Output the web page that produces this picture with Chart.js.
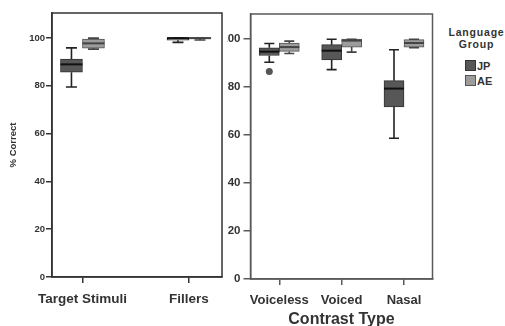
<!DOCTYPE html>
<html>
<head>
<meta charset="utf-8">
<script src="https://cdn.jsdelivr.net/npm/chart.js@4.4.1/dist/chart.umd.min.js"></script>
<style>
    body { margin: 0; background: #fff; }
    #wrap { position: relative; width: 505px; height: 326px; overflow: hidden; font-family: "Liberation Sans", Arial, sans-serif; }
    #leftChart { position: absolute; left: 0; top: 0; z-index: 2; background: #fff; }
    #rightChart { position: absolute; left: 200px; top: 0; z-index: 1; }
    .legend-title { position: absolute; left: 440px; width: 73px; text-align: center; font-weight: bold; font-size: 10.5px; letter-spacing: 0.8px; color: #333; }
    .legend-item { position: absolute; left: 465px; font-weight: bold; font-size: 11px; color: #333; line-height: 12px; }
    .swatch { display: inline-block; width: 9px; height: 9px; vertical-align: -1px; margin-right: 1px; }
</style>
</head>
<body>
<div id="wrap">
    <canvas id="leftChart" width="227" height="326"></canvas>
    <canvas id="rightChart" width="305" height="326"></canvas>
    <div class="legend-title" style="top:26px">Language</div>
    <div class="legend-title" style="top:38px">Group</div>
    <div class="legend-item" style="top:60px"><span class="swatch" style="background:#575757;border:1px solid #333"></span>JP</div>
    <div class="legend-item" style="top:75px"><span class="swatch" style="background:#9c9c9c;border:1px solid #555"></span>AE</div>
</div>
<script>
// Categories
const leftCategories = ['Target Stimuli', 'Fillers'];
const rightCategories = ['Voiceless', 'Voiced', 'Nasal'];
const yTicks = [0, 20, 40, 60, 80, 100];

// Box summaries: [min, q1, median, q3, max]
const leftJP = [[79.5, 85.7, 89.0, 91.2, 95.9], [98.2, 99.1, 100, 100, 100]];
const leftAE = [[95.4, 95.8, 97.8, 99.6, 100], [99.2, 99.6, 100, 100, 100]];
const rightJP = [[90.4, 93.2, 94.8, 96.4, 98.2], [87.3, 91.4, 95.2, 97.7, 100], [58.7, 71.8, 79.4, 82.7, 95.6]];
const rightAE = [[94.0, 94.9, 96.7, 98.4, 99.2], [94.6, 96.7, 99.4, 100, 100], [96.4, 96.7, 98.4, 99.8, 100]];
const rightJPOutliers = [[86.5], [], []];

const JP_FILL = '#575757';
const AE_FILL = '#9c9c9c';

// whiskers, medians and outliers drawn on top of the floating bars
const whiskerPlugin = {
    id: 'whiskers',
    afterDatasetsDraw(chart, args, opts) {
        const ctx = chart.ctx;
        const y = chart.scales.y;
        chart.data.datasets.forEach((ds, di) => {
            const meta = chart.getDatasetMeta(di);
            const stats = opts.stats[di];
            const outliers = (opts.outliers && opts.outliers[di]) || [];
            meta.data.forEach((bar, i) => {
                const [lo, q1, med, q3, hi] = stats[i];
                const cap = bar.width / 4;
                ctx.save();
                ctx.strokeStyle = opts.whiskerColors[di];
                ctx.lineWidth = 1.6;
                ctx.beginPath();
                ctx.moveTo(bar.x, y.getPixelForValue(q3));
                ctx.lineTo(bar.x, y.getPixelForValue(hi));
                ctx.moveTo(bar.x - cap, y.getPixelForValue(hi));
                ctx.lineTo(bar.x + cap, y.getPixelForValue(hi));
                ctx.moveTo(bar.x, y.getPixelForValue(q1));
                ctx.lineTo(bar.x, y.getPixelForValue(lo));
                ctx.moveTo(bar.x - cap, y.getPixelForValue(lo));
                ctx.lineTo(bar.x + cap, y.getPixelForValue(lo));
                ctx.stroke();

                ctx.strokeStyle = opts.medianColors[di];
                ctx.lineWidth = 2;
                ctx.beginPath();
                ctx.moveTo(bar.x - bar.width / 2, y.getPixelForValue(med));
                ctx.lineTo(bar.x + bar.width / 2, y.getPixelForValue(med));
                ctx.stroke();

                (outliers[i] || []).forEach(v => {
                    ctx.fillStyle = '#555';
                    ctx.beginPath();
                    ctx.arc(bar.x, y.getPixelForValue(v), 3.5, 0, Math.PI * 2);
                    ctx.fill();
                });
                ctx.restore();
            });
        });
    }
};

// frame round the plot area
const framePlugin = {
    id: 'frame',
    afterDraw(chart, args, opts) {
        const a = chart.chartArea;
        const ctx = chart.ctx;
        ctx.save();
        ctx.strokeStyle = opts.color;
        ctx.lineWidth = 1.5;
        ctx.strokeRect(a.left, a.top, a.right - a.left, a.bottom - a.top);
        ctx.restore();
    }
};

function boxData(stats) {
    return stats.map((s, i) => ({ x: i + 1, y: [s[1], s[3]] }));
}

function makeChart(id, cfg) {
    const axisColor = cfg.axisColor;
    return new Chart(document.getElementById(id), {
        type: 'bar',
        data: {
            datasets: [{
                label: 'JP',
                data: boxData(cfg.jp),
                backgroundColor: JP_FILL,
                borderColor: '#333',
                borderWidth: 1,
                borderSkipped: false,
                barThickness: cfg.barWidth
            }, {
                label: 'AE',
                data: boxData(cfg.ae),
                backgroundColor: AE_FILL,
                borderColor: '#555',
                borderWidth: 1,
                borderSkipped: false,
                barThickness: cfg.barWidth
            }]
        },
        options: {
            responsive: false,
            animation: false,
            devicePixelRatio: 1,
            layout: { padding: cfg.padding },
            plugins: {
                legend: { display: false },
                tooltip: { enabled: false },
                whiskers: {
                    stats: [cfg.jp, cfg.ae],
                    outliers: [cfg.jpOutliers || [], []],
                    whiskerColors: ['#222', '#444'],
                    medianColors: ['#111', '#444']
                },
                frame: { color: axisColor }
            },
            scales: {
                x: {
                    type: 'linear',
                    min: cfg.xMin,
                    max: cfg.xMax,
                    offset: false,
                    afterBuildTicks: (scale) => {
                        scale.ticks = cfg.categories.map((c, i) => ({ value: i + 1 }));
                    },
                    afterFit: (scale) => { scale.height = cfg.xHeight; },
                    grid: { drawOnChartArea: false, offset: false, tickLength: 6, color: axisColor, lineWidth: 1.5 },
                    border: { color: axisColor, width: 1.5 },
                    ticks: {
                        autoSkip: false,
                        maxRotation: 0,
                        padding: 8,
                        color: '#333',
                        font: { family: 'Liberation Sans', size: cfg.xFont, weight: 'bold' },
                        callback: (v) => cfg.categories[v - 1]
                    },
                    title: cfg.xTitle ? {
                        display: true,
                        text: cfg.xTitle,
                        color: '#333',
                        padding: { bottom: -1 },
                        font: { family: 'Liberation Sans', size: 16, weight: 'bold', lineHeight: 0.875 }
                    } : { display: false }
                },
                y: {
                    min: 0,
                    max: 110.5,
                    afterBuildTicks: (scale) => {
                        scale.ticks = yTicks.map(v => ({ value: v }));
                    },
                    afterFit: (scale) => { scale.width = cfg.yWidth; },
                    grid: { drawOnChartArea: false, tickLength: cfg.yTickLen, color: axisColor, lineWidth: 1.5 },
                    border: { color: axisColor, width: 1.5 },
                    ticks: {
                        padding: cfg.yPad,
                        color: '#333',
                        font: { family: 'Liberation Sans', size: cfg.yFont, weight: 'bold' }
                    },
                    title: cfg.yTitle ? {
                        display: true,
                        text: cfg.yTitle,
                        color: '#333',
                        padding: { top: 8 },
                        font: { family: 'Liberation Sans', size: 9.5, weight: 'bold' }
                    } : { display: false }
                }
            }
        },
        plugins: [whiskerPlugin, framePlugin]
    });
}

makeChart('leftChart', {
    categories: leftCategories,
    jp: leftJP,
    ae: leftAE,
    barWidth: 22,
    axisColor: '#333',
    padding: { left: 0, top: 13, right: 5, bottom: 0 },
    xMin: 0.714, xMax: 2.31,
    xHeight: 49, xFont: 13.5,
    yWidth: 52, yTickLen: 6, yPad: 1, yFont: 9.5,
    yTitle: '% Correct'
});

makeChart('rightChart', {
    categories: rightCategories,
    jp: rightJP,
    ae: rightAE,
    jpOutliers: rightJPOutliers,
    barWidth: 20,
    axisColor: '#5a5a5a',
    padding: { left: 0, top: 14, right: 72.5, bottom: 0 },
    xMin: 0.538, xMax: 3.457,
    xHeight: 47, xFont: 13,
    yWidth: 50.5, yTickLen: 7, yPad: 3, yFont: 11.5,
    xTitle: 'Contrast Type'
});
</script>
</body>
</html>
